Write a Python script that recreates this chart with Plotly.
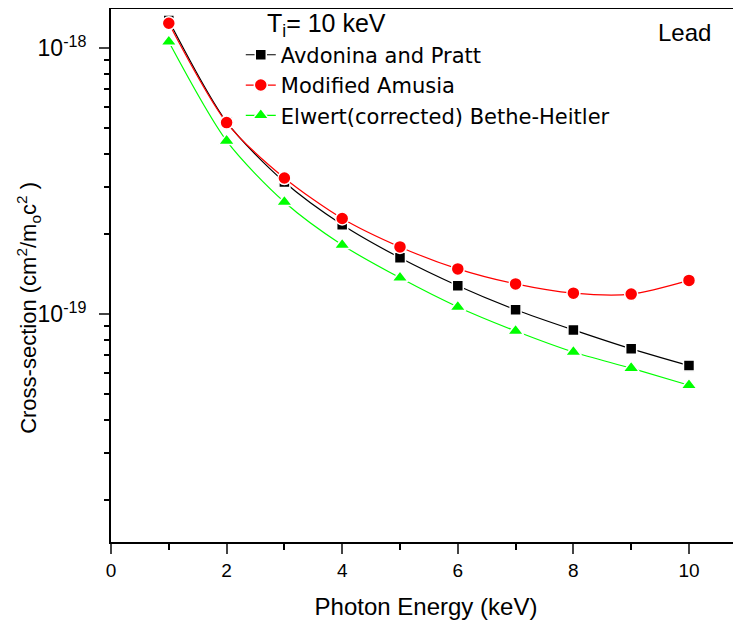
import plotly.graph_objects as go

energy = [1, 2, 3, 4, 5, 6, 7, 8, 9, 10]
avdonina_pratt = [1.27e-18, 5.28e-19, 3.14e-19, 2.17e-19, 1.63e-19, 1.28e-19, 1.04e-19, 8.73e-20, 7.41e-20, 6.41e-20]
modified_amusia = [1.24e-18, 5.25e-19, 3.25e-19, 2.29e-19, 1.79e-19, 1.48e-19, 1.30e-19, 1.20e-19, 1.19e-19, 1.34e-19]
elwert_bh = [1.056e-18, 4.48e-19, 2.64e-19, 1.82e-19, 1.37e-19, 1.065e-19, 8.65e-20, 7.21e-20, 6.27e-20, 5.41e-20]

series_names = ["Avdonina and Pratt", "Modified Amusia", "Elwert(corrected) Bethe-Heitler"]
x_ticks = [0, 2, 4, 6, 8, 10]
y_major = [1e-19, 1e-18]
y_major_text = ["10<sup>-19</sup>", "10<sup>-18</sup>"]
y_minor = [m * 10.0 ** e for e in (-20, -19) for m in range(2, 10)]

font_family = "Liberation Sans, Arial, sans-serif"
legend_family = "DejaVu Sans, Liberation Sans, sans-serif"

fig = go.Figure()
styles = [
    ("#000000", "square", 11),
    ("#ff0000", "circle", 13),
    ("#00ff00", "triangle-up", 14),
]
for name, vals, (col, sym, size) in zip(series_names, [avdonina_pratt, modified_amusia, elwert_bh], styles):
    fig.add_trace(go.Scatter(
        x=energy, y=vals, name=name, mode="lines+markers",
        line=dict(color=col, width=1.2, shape="spline", smoothing=0.8),
        marker=dict(color=col, symbol=sym, size=size, line=dict(color="white", width=1.5)),
    ))

# page body has an 8px margin; figure is sized/offset to compensate
fig.update_layout(
    width=733, height=614,
    margin=dict(l=103, r=0, t=1, b=80),
    paper_bgcolor="white", plot_bgcolor="white",
    font=dict(family=font_family, color="black"),
    showlegend=True,
    legend=dict(x=0.206, y=0.952, xanchor="left", yanchor="top",
                bgcolor="rgba(0,0,0,0)", font=dict(size=21, family=legend_family),
                tracegroupgap=0, itemwidth=30),
    annotations=[
        dict(text="T<sub>i</sub>= 10 keV", xref="paper", yref="paper", x=0.245, y=1.003,
             xanchor="left", yanchor="top", showarrow=False, font=dict(size=25)),
        dict(text="Lead", xref="paper", yref="paper", x=0.956, y=0.985,
             xanchor="right", yanchor="top", showarrow=False, font=dict(size=24)),
        dict(text="Cross-section (cm<sup>2</sup>/m<sub>o</sub>c<sup>2</sup> )", xref="paper", yref="paper",
             x=-0.132, y=0.439, xanchor="center", yanchor="middle", textangle=-90,
             showarrow=False, font=dict(size=22)),
    ],
)
fig.update_xaxes(
    range=[0, 10.9], tickvals=x_ticks, ticks="outside", ticklen=10, tickwidth=2,
    showline=True, linewidth=2, linecolor="black", mirror=True, showgrid=False, zeroline=False,
    tickfont=dict(size=19), automargin=False,
    minor=dict(tickvals=[1, 3, 5, 7, 9], ticks="outside", ticklen=6, tickwidth=2, tickcolor="black", showgrid=False),
    title=dict(text="Photon Energy (keV)", font=dict(size=24), standoff=18),
)
fig.update_yaxes(
    type="log", range=[-19.856, -17.853], tickvals=y_major, ticktext=y_major_text,
    ticks="outside", ticklen=10, tickwidth=2, ticklabelstandoff=8,
    showline=True, linewidth=2, linecolor="black", mirror=True, showgrid=False, zeroline=False,
    tickfont=dict(size=23), automargin=False,
    minor=dict(tickvals=y_minor, ticks="outside", ticklen=5, tickwidth=2, tickcolor="black", showgrid=False),
)
fig.write_html("out.html")
